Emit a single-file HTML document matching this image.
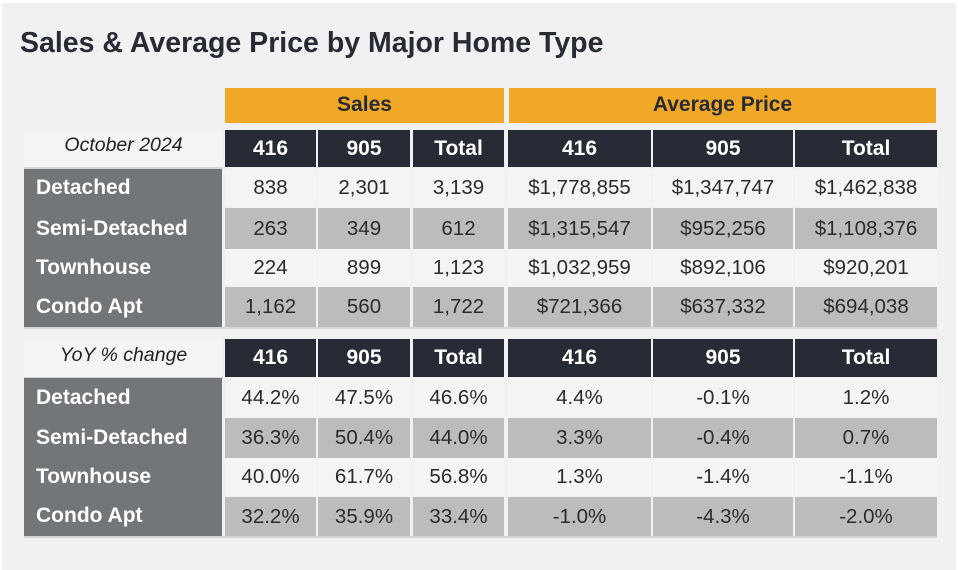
<!DOCTYPE html>
<html><head><meta charset="utf-8"><style>
*{margin:0;padding:0;box-sizing:border-box}
body{width:958px;height:570px;background:#fff;position:relative;overflow:hidden;font-family:"Liberation Sans",Arial,sans-serif}
#bg{position:absolute;left:2px;top:3px;width:954px;height:567px;background:#f1f1f1}
h1{position:absolute;left:20px;top:27px;font-size:28.5px;font-weight:bold;color:#272b36;white-space:nowrap}
.c{position:absolute;display:flex;align-items:center;justify-content:center;font-size:20.5px;color:#2b2b2b;white-space:nowrap}
.o{background:#f0a826;color:#272b36;font-weight:bold;font-size:21px;padding-bottom:1px}
.h{background:#272b36;color:#fff;font-weight:bold;font-size:21px}
.w{background:#f4f4f4;font-style:italic;font-size:19.5px;color:#222;padding-bottom:6px}
.l{background:#f4f4f4}
.d{background:#bbbcbb}
.lab{position:absolute;background:#737679;left:24px;width:198px}
.t{position:absolute;left:36px;color:#fff;font-weight:bold;font-size:21px;display:flex;align-items:center}
.line{position:absolute;background:#d6d6d6;height:2px}
</style></head><body>
<div id="bg"></div>
<h1>Sales &amp; Average Price by Major Home Type</h1>

<div class="c o" style="left:225px;top:88px;width:279px;height:35px">Sales</div>
<div class="c o" style="left:509px;top:88px;width:427px;height:35px">Average Price</div>

<!-- Table 1 -->
<div class="c w" style="left:24px;top:130px;width:199px;height:37px">October 2024</div>
<div class="line" style="left:24px;top:167px;width:199px"></div>
<div class="c h" style="left:225px;top:130px;width:91px;height:37px">416</div>
<div class="c h" style="left:318px;top:130px;width:92px;height:37px">905</div>
<div class="c h" style="left:413px;top:130px;width:91px;height:37px">Total</div>
<div class="c h" style="left:508px;top:130px;width:143px;height:37px">416</div>
<div class="c h" style="left:653px;top:130px;width:140px;height:37px">905</div>
<div class="c h" style="left:795px;top:130px;width:142px;height:37px">Total</div>

<div class="lab" style="top:169px;height:158px"></div>
<div class="t" style="top:169px;height:38px">Detached</div>
<div class="t" style="top:208px;height:41px">Semi-Detached</div>
<div class="t" style="top:249px;height:37px">Townhouse</div>
<div class="t" style="top:287px;height:40px">Condo Apt</div>
<div class="line" style="left:24px;top:327px;width:913px"></div>

<div class="c l" style="left:225px;top:169px;width:91px;height:38px">838</div>
<div class="c l" style="left:318px;top:169px;width:92px;height:38px">2,301</div>
<div class="c l" style="left:413px;top:169px;width:91px;height:38px">3,139</div>
<div class="c l" style="left:508px;top:169px;width:143px;height:38px">$1,778,855</div>
<div class="c l" style="left:653px;top:169px;width:140px;height:38px">$1,347,747</div>
<div class="c l" style="left:795px;top:169px;width:142px;height:38px">$1,462,838</div>

<div class="c d" style="left:225px;top:208px;width:91px;height:41px">263</div>
<div class="c d" style="left:318px;top:208px;width:92px;height:41px">349</div>
<div class="c d" style="left:413px;top:208px;width:91px;height:41px">612</div>
<div class="c d" style="left:508px;top:208px;width:143px;height:41px">$1,315,547</div>
<div class="c d" style="left:653px;top:208px;width:140px;height:41px">$952,256</div>
<div class="c d" style="left:795px;top:208px;width:142px;height:41px">$1,108,376</div>

<div class="c l" style="left:225px;top:249px;width:91px;height:37px">224</div>
<div class="c l" style="left:318px;top:249px;width:92px;height:37px">899</div>
<div class="c l" style="left:413px;top:249px;width:91px;height:37px">1,123</div>
<div class="c l" style="left:508px;top:249px;width:143px;height:37px">$1,032,959</div>
<div class="c l" style="left:653px;top:249px;width:140px;height:37px">$892,106</div>
<div class="c l" style="left:795px;top:249px;width:142px;height:37px">$920,201</div>

<div class="c d" style="left:225px;top:287px;width:91px;height:40px">1,162</div>
<div class="c d" style="left:318px;top:287px;width:92px;height:40px">560</div>
<div class="c d" style="left:413px;top:287px;width:91px;height:40px">1,722</div>
<div class="c d" style="left:508px;top:287px;width:143px;height:40px">$721,366</div>
<div class="c d" style="left:653px;top:287px;width:140px;height:40px">$637,332</div>
<div class="c d" style="left:795px;top:287px;width:142px;height:40px">$694,038</div>

<!-- Table 2 -->
<div class="c w" style="left:24px;top:339px;width:199px;height:38px">YoY % change</div>
<div class="line" style="left:24px;top:377px;width:199px"></div>
<div class="c h" style="left:225px;top:339px;width:91px;height:38px">416</div>
<div class="c h" style="left:318px;top:339px;width:92px;height:38px">905</div>
<div class="c h" style="left:413px;top:339px;width:91px;height:38px">Total</div>
<div class="c h" style="left:508px;top:339px;width:143px;height:38px">416</div>
<div class="c h" style="left:653px;top:339px;width:140px;height:38px">905</div>
<div class="c h" style="left:795px;top:339px;width:142px;height:38px">Total</div>

<div class="lab" style="top:378px;height:158px"></div>
<div class="t" style="top:378px;height:40px">Detached</div>
<div class="t" style="top:418px;height:40px">Semi-Detached</div>
<div class="t" style="top:458px;height:38px">Townhouse</div>
<div class="t" style="top:496px;height:40px">Condo Apt</div>
<div class="line" style="left:24px;top:536px;width:913px"></div>

<div class="c l" style="left:225px;top:378px;width:91px;height:40px">44.2%</div>
<div class="c l" style="left:318px;top:378px;width:92px;height:40px">47.5%</div>
<div class="c l" style="left:413px;top:378px;width:91px;height:40px">46.6%</div>
<div class="c l" style="left:508px;top:378px;width:143px;height:40px">4.4%</div>
<div class="c l" style="left:653px;top:378px;width:140px;height:40px">-0.1%</div>
<div class="c l" style="left:795px;top:378px;width:142px;height:40px">1.2%</div>

<div class="c d" style="left:225px;top:418px;width:91px;height:40px">36.3%</div>
<div class="c d" style="left:318px;top:418px;width:92px;height:40px">50.4%</div>
<div class="c d" style="left:413px;top:418px;width:91px;height:40px">44.0%</div>
<div class="c d" style="left:508px;top:418px;width:143px;height:40px">3.3%</div>
<div class="c d" style="left:653px;top:418px;width:140px;height:40px">-0.4%</div>
<div class="c d" style="left:795px;top:418px;width:142px;height:40px">0.7%</div>

<div class="c l" style="left:225px;top:458px;width:91px;height:38px">40.0%</div>
<div class="c l" style="left:318px;top:458px;width:92px;height:38px">61.7%</div>
<div class="c l" style="left:413px;top:458px;width:91px;height:38px">56.8%</div>
<div class="c l" style="left:508px;top:458px;width:143px;height:38px">1.3%</div>
<div class="c l" style="left:653px;top:458px;width:140px;height:38px">-1.4%</div>
<div class="c l" style="left:795px;top:458px;width:142px;height:38px">-1.1%</div>

<div class="c d" style="left:225px;top:497px;width:91px;height:39px">32.2%</div>
<div class="c d" style="left:318px;top:497px;width:92px;height:39px">35.9%</div>
<div class="c d" style="left:413px;top:497px;width:91px;height:39px">33.4%</div>
<div class="c d" style="left:508px;top:497px;width:143px;height:39px">-1.0%</div>
<div class="c d" style="left:653px;top:497px;width:140px;height:39px">-4.3%</div>
<div class="c d" style="left:795px;top:497px;width:142px;height:39px">-2.0%</div>
</body></html>
